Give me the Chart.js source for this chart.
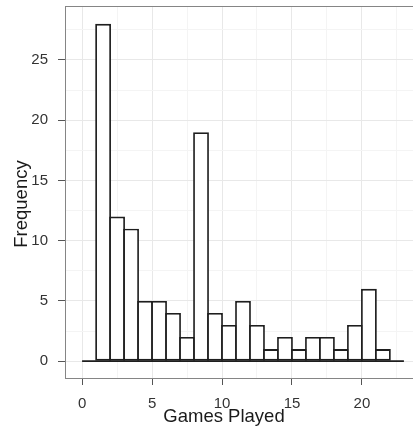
<!DOCTYPE html>
<html>
<head>
<meta charset="utf-8">
<script src="https://cdn.jsdelivr.net/npm/chart.js@4.4.1/dist/chart.umd.min.js"></script>
<style>
html, body { margin: 0; padding: 0; background: #fff; overflow: hidden; }
#wrap { position: absolute; left: 0; top: 0; width: 422px; height: 433px; }
</style>
</head>
<body>
<div id="wrap"><canvas id="chart"></canvas></div>
<script>
// histogram bins (left edge, width 1) and their counts
var binStarts = [0, 1, 2, 3, 4, 5, 6, 7, 8, 9, 10, 11, 12, 13, 14, 15, 16, 17, 18, 19, 20, 21, 22];
var counts = [0, 28, 12, 11, 5, 5, 4, 2, 19, 4, 3, 5, 3, 1, 2, 1, 2, 2, 1, 3, 6, 1, 0];
var xGridValues = [0, 2.5, 5, 7.5, 10, 12.5, 15, 17.5, 20, 22.5];
var yGridValues = [0, 2.5, 5, 7.5, 10, 12.5, 15, 17.5, 20, 22.5, 25, 27.5];
var xLabel = 'Games Played';
var yLabel = 'Frequency';

var barData = [];
for (var i = 0; i < binStarts.length; i++) {
	barData.push({x: binStarts[i] + 0.5, y: counts[i]});
}
var baseData = [
	{x: binStarts[0], y: 0},
	{x: binStarts[binStarts.length - 1] + 1, y: 0}
];

var FONT = '"Liberation Sans", Arial, sans-serif';
Chart.defaults.font.family = FONT;
var lineW = 1.8;
var ink = '#1e1e1e';

function isMajor(ctx) {
	return ctx.tick && ctx.tick.value % 5 === 0;
}

var panelPlugin = {
	id: 'panel',
	afterDraw: function (chart) {
		var ctx = chart.ctx;
		var a = chart.chartArea;
		ctx.save();
		ctx.strokeStyle = '#858585';
		ctx.lineWidth = 1;
		ctx.strokeRect(a.left - 0.5, a.top - 0.5, a.right - a.left + 1, a.bottom - a.top + 1);
		ctx.fillStyle = '#1a1a1a';
		ctx.font = '18.5px ' + FONT;
		ctx.textAlign = 'center';
		ctx.textBaseline = 'alphabetic';
		ctx.fillText(xLabel, 224, 422);
		ctx.translate(27, 204);
		ctx.rotate(-Math.PI / 2);
		ctx.fillText(yLabel, 0, 0);
		ctx.restore();
	}
};

new Chart(document.getElementById('chart'), {
	type: 'bar',
	data: {
		datasets: [{
			type: 'line',
			data: baseData,
			borderColor: ink,
			borderWidth: lineW,
			pointRadius: 0,
			order: 0
		}, {
			data: barData,
			backgroundColor: '#ffffff',
			borderColor: ink,
			borderWidth: lineW,
			borderSkipped: false,
			categoryPercentage: 1,
			barPercentage: 1 + lineW / 14,
			order: 1
		}]
	},
	options: {
		responsive: true,
		maintainAspectRatio: false,
		animation: false,
		layout: {padding: {top: 7, right: 2, left: 0, bottom: 0}},
		plugins: {legend: {display: false}, tooltip: {enabled: false}},
		scales: {
			x: {
				type: 'linear',
				offset: false,
				min: -1.15,
				max: 24.15,
				afterBuildTicks: function (scale) {
					scale.ticks = xGridValues.map(function (v) { return {value: v}; });
				},
				afterFit: function (scale) {
					scale.height = 55;
					scale.paddingLeft = 0;
					scale.paddingRight = 0;
				},
				border: {display: false},
				grid: {
					offset: false,
					color: function (ctx) { return isMajor(ctx) ? '#e8e8e8' : '#f4f4f4'; },
					tickColor: function (ctx) { return isMajor(ctx) ? '#555555' : 'rgba(0,0,0,0)'; },
					tickLength: 7,
					lineWidth: 1
				},
				ticks: {
					autoSkip: false,
					maxRotation: 0,
					padding: 10,
					color: '#333333',
					font: {size: 15},
					callback: function (v) { return v % 5 === 0 ? String(v) : ''; }
				}
			},
			y: {
				min: -1.4,
				max: 29.4,
				afterBuildTicks: function (scale) {
					scale.ticks = yGridValues.map(function (v) { return {value: v}; });
				},
				afterFit: function (scale) {
					scale.width = 66;
					scale.paddingTop = 0;
					scale.paddingBottom = 0;
				},
				border: {display: false},
				grid: {
					color: function (ctx) { return isMajor(ctx) ? '#e8e8e8' : '#f4f4f4'; },
					tickColor: function (ctx) { return isMajor(ctx) ? '#555555' : 'rgba(0,0,0,0)'; },
					tickLength: 8,
					lineWidth: 1
				},
				ticks: {
					autoSkip: false,
					padding: 10,
					color: '#333333',
					font: {size: 15},
					callback: function (v) { return v % 5 === 0 ? String(v) : ''; }
				}
			}
		}
	},
	plugins: [panelPlugin]
});
</script>
</body>
</html>
